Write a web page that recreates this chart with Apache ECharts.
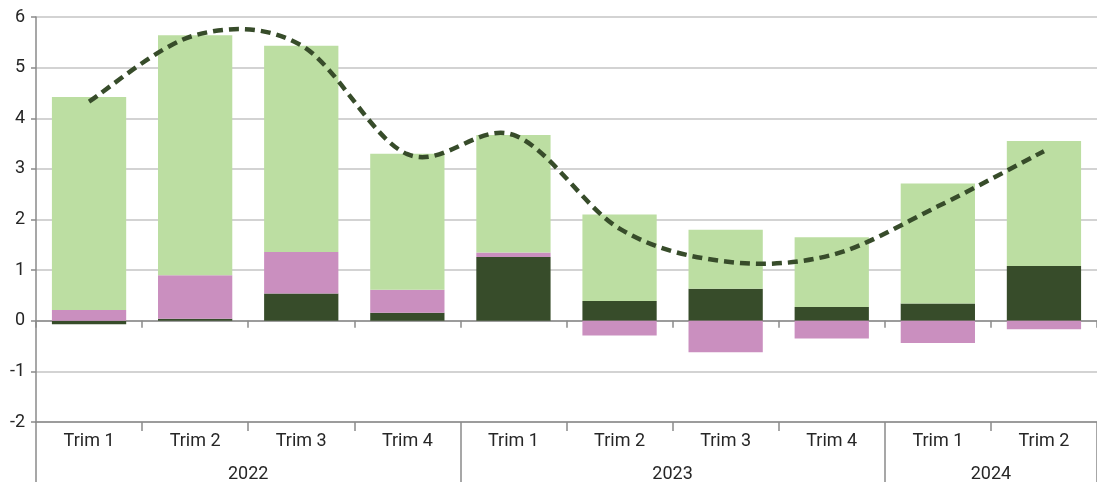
<!DOCTYPE html>
<html>
<head>
<meta charset="utf-8">
<script src="https://cdn.jsdelivr.net/npm/echarts@6/dist/echarts.min.js"></script>
<style>
  html, body { margin: 0; padding: 0; background: #fff; }
  #chart { width: 1097px; height: 484px; }
</style>
</head>
<body>
<div id="chart"></div>
<script>
// data
const quarters = ['Trim 1', 'Trim 2', 'Trim 3', 'Trim 4', 'Trim 1', 'Trim 2', 'Trim 3', 'Trim 4', 'Trim 1', 'Trim 2'];
const years = ['2022', '2023', '2024'];
const yearCenters = [2, 6, 9];
const yearBounds = [0, 4, 8, 10];
const darkGreen = [-0.07, 0.04, 0.54, 0.16, 1.26, 0.39, 0.63, 0.27, 0.34, 1.08];
const pink = [0.21, 0.86, 0.82, 0.45, 0.09, -0.29, -0.62, -0.35, -0.44, -0.17];
const lightGreen = [4.21, 4.74, 4.07, 2.69, 2.32, 1.71, 1.17, 1.38, 2.37, 2.47];
const total = [4.33, 5.64, 5.44, 3.29, 3.67, 1.82, 1.17, 1.30, 2.26, 3.35];

const FONT = "Roboto, 'Noto Sans', sans-serif";
const TEXT = '#262626';
const AXIS = '#8a8a8a';
const LINE = '#374c2a';

// smooth curve like spreadsheet tools do (Catmull-Rom through the points)
function smoothPath(pts) {
  let d = 'M' + pts[0][0] + ' ' + pts[0][1];
  for (let i = 0; i < pts.length - 1; i++) {
    const p0 = pts[Math.max(i - 1, 0)];
    const p1 = pts[i];
    const p2 = pts[i + 1];
    const p3 = pts[Math.min(i + 2, pts.length - 1)];
    const c1x = p1[0] + (p2[0] - p0[0]) / 6, c1y = p1[1] + (p2[1] - p0[1]) / 6;
    const c2x = p2[0] - (p3[0] - p1[0]) / 6, c2y = p2[1] - (p3[1] - p1[1]) / 6;
    d += ' C' + c1x + ' ' + c1y + ' ' + c2x + ' ' + c2y + ' ' + p2[0] + ' ' + p2[1];
  }
  return d;
}

const chart = echarts.init(document.getElementById('chart'), null, { renderer: 'canvas' });

chart.setOption({
  animation: false,
  grid: { left: 36, right: 0, top: 17, bottom: 62, containLabel: false },
  xAxis: [
    {
      // baseline axis (at zero) carrying the bars
      type: 'category',
      data: quarters,
      axisLine: { onZero: true, lineStyle: { color: AXIS, width: 1.5 } },
      axisTick: { show: true, length: 7, lineStyle: { color: AXIS, width: 1.5 } },
      axisLabel: { show: false },
      splitLine: { show: false }
    },
    {
      // quarter labels at the bottom
      type: 'category',
      data: quarters,
      position: 'bottom',
      axisLine: { onZero: false, lineStyle: { color: AXIS, width: 1.5 } },
      axisTick: { show: true, length: 9, lineStyle: { color: AXIS, width: 1.5 } },
      axisLabel: { margin: 9, color: TEXT, fontFamily: FONT, fontSize: 18, lineHeight: 20 },
      splitLine: { show: false }
    },
    {
      // year labels and separators
      type: 'value',
      min: 0,
      max: 10,
      position: 'bottom',
      axisLine: { show: false, onZero: false },
      axisTick: { show: true, length: 60, customValues: yearBounds, lineStyle: { color: AXIS, width: 1.5 } },
      axisLabel: {
        margin: 42, color: TEXT, fontFamily: FONT, fontSize: 18, lineHeight: 20,
        customValues: yearCenters,
        formatter: v => years[yearCenters.indexOf(v)]
      },
      splitLine: { show: false }
    }
  ],
  yAxis: {
    type: 'value',
    min: -2,
    max: 6,
    interval: 1,
    axisLine: { show: true, lineStyle: { color: AXIS, width: 1.5 } },
    axisTick: { show: true, length: 5, lineStyle: { color: AXIS, width: 1.5 } },
    axisLabel: { margin: 11, color: TEXT, fontFamily: FONT, fontSize: 18 },
    splitLine: { show: true, lineStyle: { color: '#c4c4c4', width: 1.5 } }
  },
  series: [
    {
      type: 'bar', stack: 'c', data: darkGreen, barWidth: '70%',
      itemStyle: { color: '#374c2a' }
    },
    {
      type: 'bar', stack: 'c', data: pink, barWidth: '70%',
      itemStyle: { color: '#ca8fbf' }
    },
    {
      type: 'bar', stack: 'c', data: lightGreen, barWidth: '70%',
      itemStyle: { color: '#bcdea2' }
    },
    {
      type: 'custom',
      z: 5,
      data: total.map((v, i) => [i, v]),
      encode: { x: 0, y: 1 },
      renderItem: function (params, api) {
        if (params.dataIndex !== 0) return;
        const pts = total.map((v, i) => api.coord([i, v]));
        return {
          type: 'path',
          shape: { pathData: smoothPath(pts) },
          style: { fill: 'none', stroke: LINE, lineWidth: 4.5, lineDash: [10, 6] }
        };
      }
    }
  ]
});
</script>
</body>
</html>
